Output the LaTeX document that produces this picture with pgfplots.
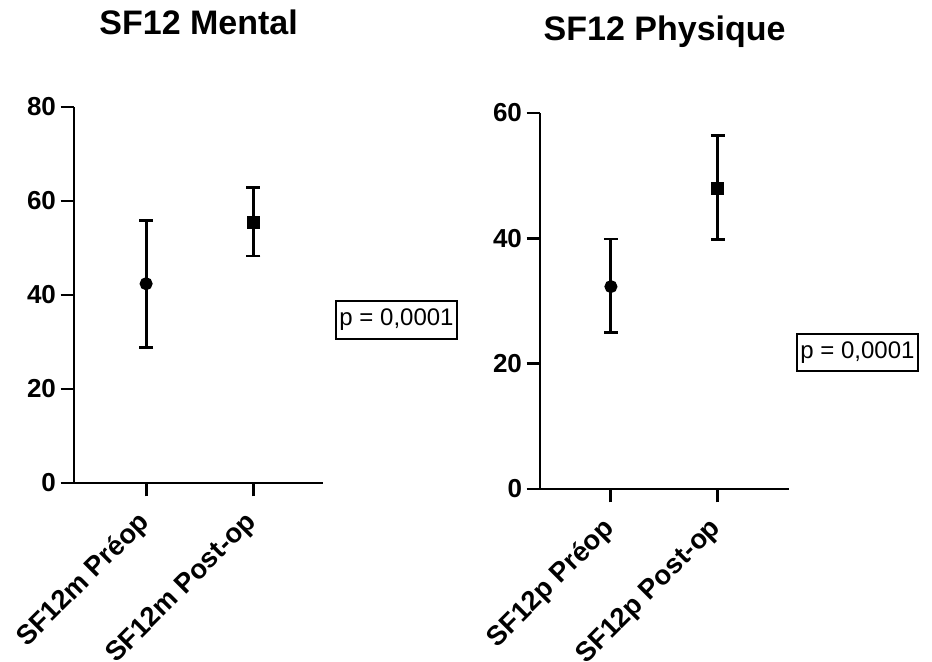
\documentclass[border=0pt]{standalone}
\usepackage{fontspec}
\setmainfont{Liberation Sans}
\usepackage{pgfplots}
\pgfplotsset{compat=1.18}
\usetikzlibrary{calc}

\pgfplotsset{
  sfstyle/.style={
    scale only axis, width=187pt, height=282pt,
    axis lines=left, axis line style={line width=2.2pt, -},
    tick align=outside, major tick length=10pt,
    every tick/.style={line width=2.2pt, black},
    ytick style={line width=2.2pt}, xtick style={line width=2.2pt},
    /pgf/number format/assume math mode=true,
    tick label style={font=\bfseries\fontsize{19.5}{19.5}\selectfont},
    xtick={1,2},
    % shifts are taken in the rotated frame
    xticklabel style={rotate=45, anchor=north east, inner sep=0pt, xshift=-12pt, yshift=-1.8pt,
      font=\bfseries\fontsize{20.5}{20.5}\selectfont},
    title style={font=\bfseries\fontsize{25.5}{25.5}\selectfont, at={(0.5,1)}, anchor=base, yshift=48.75pt},
    clip=false,
  },
  ebar/.style={black, line width=2.2pt, only marks,
    error bars/y dir=both, error bars/y explicit,
    error bars/error bar style={line width=2.2pt, black},
    error bars/error mark options={line width=2.2pt, mark size=5.25pt, rotate=90}},
}
\tikzset{pbox/.style={draw, line width=1.5pt, font=\fontsize{18}{18}\selectfont,
  inner xsep=2.5pt, inner ysep=5.9pt}}

\begin{document}
\begin{tikzpicture}
\useasboundingbox (-55.5pt,-133.5pt) rectangle (643.5pt,362.25pt);
\begin{axis}[sfstyle, name=L, at={(0,0)}, anchor=south west,
  title={SF12 Mental},
  xmin=0.327, xmax=2.654, ymin=0, ymax=80, ytick={0,20,40,60,80},
  xticklabels={SF12m Préop, SF12m Post-op}]
\addplot[ebar, mark=*, mark size=3.75pt] coordinates {(1,42.4) += (0,13.5) -= (0,13.5)};
\addplot[ebar, mark=square*, mark size=3.75pt] coordinates {(2,55.5) += (0,7.4) -= (0,7.2)};
\end{axis}
\node[pbox] at ($(L.south west)+(241.9pt,122.25pt)$) {p = 0,0001};

\begin{axis}[sfstyle, name=R, at={($(L.south west)+(349.5pt,-4.5pt)$)}, anchor=south west,
  title={SF12 Physique},
  xmin=0.336, xmax=2.67, ymin=0, ymax=60, ytick={0,20,40,60},
  xticklabels={SF12p Préop, SF12p Post-op}]
\addplot[ebar, mark=*, mark size=3.75pt] coordinates {(1,32.3) += (0,7.6) -= (0,7.4)};
\addplot[ebar, mark=square*, mark size=3.75pt] coordinates {(2,48.0) += (0,8.4) -= (0,8.2)};
\end{axis}
\node[pbox] at ($(R.south west)+(238.1pt,102.4pt)$) {p = 0,0001};
\end{tikzpicture}
\end{document}
